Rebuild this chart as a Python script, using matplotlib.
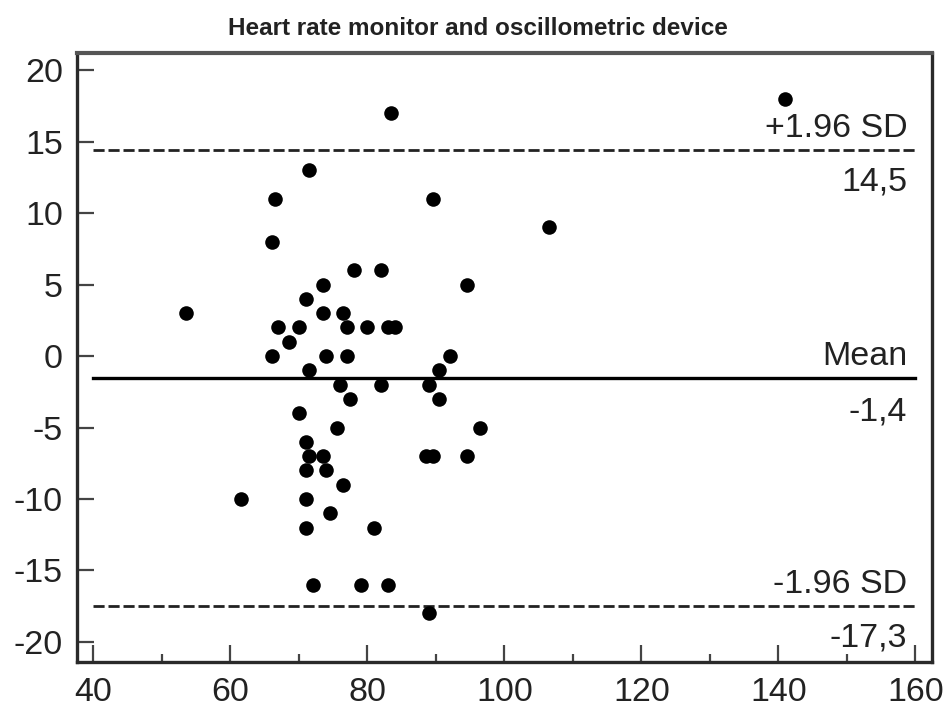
import matplotlib
matplotlib.use("Agg")
import matplotlib.pyplot as plt
from matplotlib.ticker import MultipleLocator

plt.rcParams['font.family'] = ['Liberation Sans', 'DejaVu Sans']
plt.rcParams['axes.unicode_minus'] = False

# Data: mean of the two devices (x) vs difference (y)
mean_hr = [141, 83.5, 71.5, 66.5, 89.5, 106.5, 66, 78, 82, 73.5, 94.5, 71,
           53.5, 73.5, 76.5, 67, 70, 77, 80, 83, 84, 68.5, 66, 74, 77, 92,
           71.5, 90.5, 76, 82, 89, 77.5, 90.5, 70, 75.5, 96.5, 71, 71.5,
           73.5, 88.5, 89.5, 94.5, 71, 74, 76.5, 61.5, 71, 74.5, 71, 81,
           72, 79, 83, 89]
diff_hr = [18, 17, 13, 11, 11, 9, 8, 6, 6, 5, 5, 4,
           3, 3, 3, 2, 2, 2, 2, 2, 2, 1, 0, 0, 0, 0,
           -1, -1, -2, -2, -2, -3, -3, -4, -5, -5, -6, -7,
           -7, -7, -7, -7, -8, -8, -9, -10, -10, -11, -12, -12,
           -16, -16, -16, -18]

line_values = [14.4, -1.5, -17.5]
line_styles = ['dashed', 'solid', 'dashed']
upper_labels = ['+1.96 SD', 'Mean', '-1.96 SD']
lower_labels = ['14,5', '-1,4', '-17,3']
upper_label_y = [15.3, -0.63, -16.6]
lower_label_y = [11.6, -4.48, -20.35]

title = 'Heart rate monitor and oscillometric device'

fig = plt.figure(figsize=(9.48, 7.07), dpi=100)
ax = fig.add_axes([0.0812, 0.0637, 0.9018, 0.8613])

ax.scatter(mean_hr, diff_hr, s=110, color='black', zorder=3, linewidths=0)

for v, ls in zip(line_values, line_styles):
    if ls == 'dashed':
        ax.plot([40, 160], [v, v], color='#222222', lw=2.0,
                linestyle=(0, (4, 1.4)), zorder=2)
    else:
        ax.plot([40, 160], [v, v], color='black', lw=2.4, zorder=2)

for t, yv in zip(upper_labels, upper_label_y):
    ax.text(158.8, yv, t, ha='right', va='baseline', fontsize=24.5, color='#222222')
for t, yv in zip(lower_labels, lower_label_y):
    ax.text(158.8, yv, t, ha='right', va='baseline', fontsize=24.5, color='#222222')

ax.set_xlim(37.6, 162.4)
ax.set_ylim(-21.4, 21.2)
ax.xaxis.set_major_locator(MultipleLocator(20))
ax.xaxis.set_minor_locator(MultipleLocator(10))
ax.yaxis.set_major_locator(MultipleLocator(5))

ax.tick_params(axis='both', which='major', direction='in', length=12, width=1.6,
               color='#444444', labelsize=24.5, labelcolor='#222222')
ax.tick_params(axis='x', which='major', pad=11)
ax.tick_params(axis='y', which='major', pad=10)
ax.tick_params(axis='x', which='minor', direction='in', length=6, width=1.6,
               color='#444444')
ax.tick_params(top=False, right=False, which='both')

for side in ['left', 'bottom', 'right']:
    ax.spines[side].set_color('#2a2a2a')
    ax.spines[side].set_linewidth(2.4)
ax.spines['top'].set_color('#555555')
ax.spines['top'].set_linewidth(3.0)

fig.text(0.504, 0.95, title, ha='center', va='baseline', fontsize=17.5,
         fontweight='bold', color='#222222')

fig.savefig('out.png', dpi=100)
